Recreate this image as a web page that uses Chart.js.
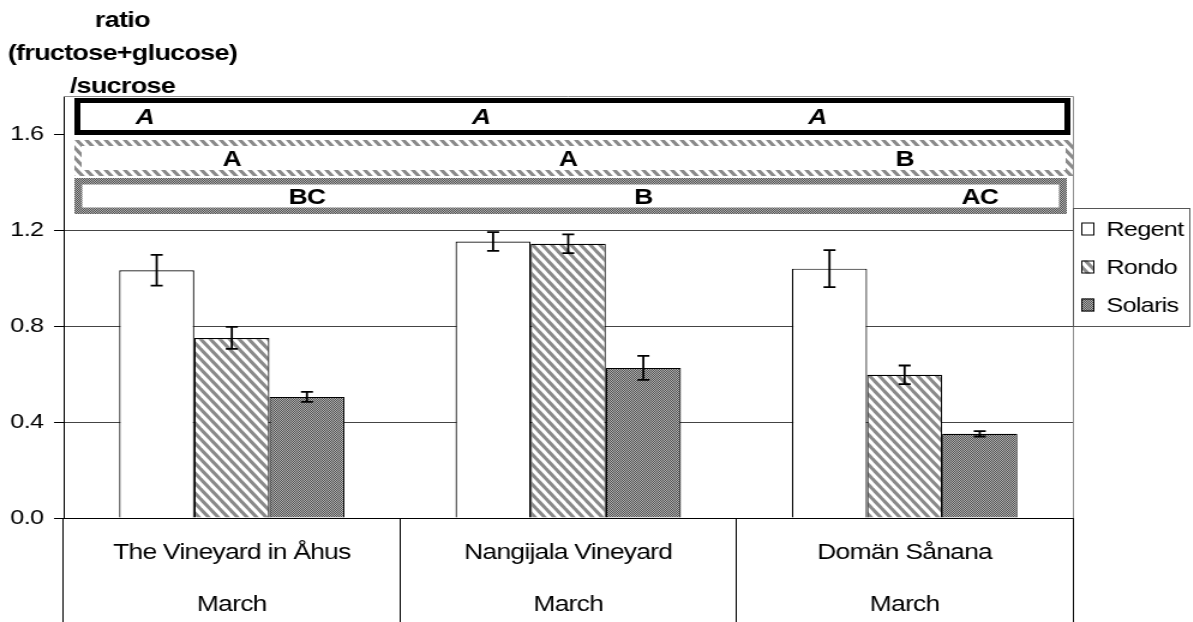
<!DOCTYPE html>
<html>
<head>
<meta charset="utf-8">
<script src="https://cdn.jsdelivr.net/npm/chart.js@4.4.1/dist/chart.umd.min.js"></script>
<style>
  html, body { margin: 0; padding: 0; background: #fff; overflow: hidden; }
  #wrap { width: 1193px; height: 622px; overflow: hidden; }
  /* the chart is laid out narrow and widened on screen */
  #chart { display: block; transform: scaleX(1.2); transform-origin: 0 0; }
</style>
</head>
<body>
<div id="wrap"><canvas id="chart" width="994" height="622"></canvas></div>
<script>
// ---- data ----
const sites = ['The Vineyard in Åhus', 'Nangijala Vineyard', 'Domän Sånana'];
const months = ['March', 'March', 'March'];
const cultivars = ['Regent', 'Rondo', 'Solaris'];

const regent = [1.033, 1.153, 1.040];
const rondo = [0.751, 1.144, 0.597];
const solaris = [0.505, 0.626, 0.351];

const regentErr = [0.064, 0.039, 0.077];
const rondoErr = [0.046, 0.039, 0.039];
const solarisErr = [0.021, 0.050, 0.011];

const regentLetters = ['A', 'A', 'A'];
const rondoLetters = ['A', 'A', 'B'];
const solarisLetters = ['BC', 'B', 'AC'];

const yTicks = [0, 0.4, 0.8, 1.2, 1.6];
const yMax = 1.76;
const axisTitle = ['ratio', '(fructose+glucose)', '/sucrose'];

const FONT = '"Liberation Sans", Arial, Helvetica, sans-serif';

// ---- fill patterns ----
function stripePattern() {
  const w = 8, h = 10;
  const c = document.createElement('canvas');
  c.width = w; c.height = h;
  const g = c.getContext('2d');
  g.fillStyle = '#fff';
  g.fillRect(0, 0, w, h);
  g.strokeStyle = '#8a8a8a';
  g.lineWidth = 3;
  for (const dx of [-w, 0, w]) {
    g.beginPath();
    g.moveTo(dx - w, -h);
    g.lineTo(dx + 2 * w, 2 * h);
    g.stroke();
  }
  return g.createPattern(c, 'repeat');
}
function dotPattern() {
  const c = document.createElement('canvas');
  c.width = 2; c.height = 2;
  const g = c.getContext('2d');
  g.fillStyle = '#b4b4b4';
  g.fillRect(0, 0, 2, 2);
  g.fillStyle = '#4e4e4e';
  g.fillRect(0, 0, 1, 1);
  g.fillRect(1, 1, 1, 1);
  return g.createPattern(c, 'repeat');
}
const stripes = stripePattern();
const dots = dotPattern();

const datasets = [
  { label: cultivars[0], data: regent, errors: regentErr, letters: regentLetters,
    backgroundColor: '#ffffff', borderColor: '#000', borderWidth: 1.2 },
  { label: cultivars[1], data: rondo, errors: rondoErr, letters: rondoLetters,
    backgroundColor: stripes, borderColor: '#000', borderWidth: 1.2 },
  { label: cultivars[2], data: solaris, errors: solarisErr, letters: solarisLetters,
    backgroundColor: dots, borderColor: '#000', borderWidth: 1.2 }
];

// ---- plugins ----
const tightText = {
  id: 'tightText',
  beforeDraw(chart) {
    chart.ctx.letterSpacing = '-0.6px';
  }
};

const plotFrame = {
  id: 'plotFrame',
  beforeDatasetsDraw(chart) {
    const { ctx, chartArea: a } = chart;
    ctx.save();
    ctx.strokeStyle = '#8c8c8c';
    ctx.lineWidth = 1;
    ctx.beginPath();
    ctx.moveTo(a.left, a.top + 0.5);
    ctx.lineTo(a.right + 0.5, a.top + 0.5);
    ctx.lineTo(a.right + 0.5, a.bottom);
    ctx.stroke();
    ctx.restore();
  }
};

const errorBars = {
  id: 'errorBars',
  afterDatasetsDraw(chart) {
    const { ctx, scales: { y } } = chart;
    ctx.save();
    ctx.strokeStyle = '#000';
    ctx.lineWidth = 1.8;
    chart.data.datasets.forEach((ds, i) => {
      chart.getDatasetMeta(i).data.forEach((bar, j) => {
        const v = ds.data[j], e = ds.errors[j];
        const x = bar.x;
        const yt = y.getPixelForValue(v + e);
        const yb = y.getPixelForValue(v - e);
        ctx.beginPath();
        ctx.moveTo(x, yt); ctx.lineTo(x, yb);
        ctx.moveTo(x - 5, yt); ctx.lineTo(x + 5, yt);
        ctx.moveTo(x - 5, yb); ctx.lineTo(x + 5, yb);
        ctx.stroke();
      });
    });
    ctx.restore();
  }
};

// significance letters, one framed band per cultivar
const letterBands = {
  id: 'letterBands',
  afterDraw(chart) {
    const { ctx, chartArea: a } = chart;
    const bands = [
      { ds: 0, top: 2, bottom: 39, left: 9, right: 2, stroke: '#000', width: 5,
        font: 'italic bold 22px ' + FONT, dx: -10 },
      { ds: 1, top: 44, bottom: 80, left: 9, right: 0, stroke: stripes, width: 6,
        font: 'bold 22px ' + FONT, dx: 0 },
      { ds: 2, top: 82, bottom: 118, left: 9, right: 5, stroke: dots, width: 6.5,
        font: 'bold 22px ' + FONT, dx: 0 }
    ];
    ctx.save();
    bands.forEach(b => {
      const L = a.left + b.left, R = a.right - b.right;
      const T = a.top + b.top, B = a.top + b.bottom;
      ctx.fillStyle = '#fff';
      ctx.fillRect(L, T, R - L, B - T);
      ctx.strokeStyle = b.stroke;
      ctx.lineWidth = b.width;
      ctx.strokeRect(L + b.width / 2, T + b.width / 2, R - L - b.width, B - T - b.width);
      const ds = chart.data.datasets[b.ds];
      const meta = chart.getDatasetMeta(b.ds);
      ctx.fillStyle = '#000';
      ctx.font = b.font;
      ctx.textAlign = 'center';
      ctx.textBaseline = 'middle';
      meta.data.forEach((bar, j) => {
        ctx.fillText(ds.letters[j], bar.x + b.dx, (T + B) / 2 + 1.5);
      });
    });
    ctx.restore();
  }
};

const boxedLegend = {
  id: 'boxedLegend',
  afterDraw(chart) {
    const { ctx, chartArea: a } = chart;
    const L = a.right, T = a.top + 112, W = 97, H = 118;
    ctx.save();
    ctx.fillStyle = '#fff';
    ctx.fillRect(L, T, W, H);
    ctx.strokeStyle = '#555';
    ctx.lineWidth = 1;
    ctx.strokeRect(L + 0.5, T + 0.5, W, H);
    ctx.font = '21px ' + FONT;
    ctx.textAlign = 'left';
    ctx.textBaseline = 'middle';
    chart.data.datasets.forEach((ds, i) => {
      const cy = T + 21 + i * 38;
      ctx.fillStyle = ds.backgroundColor;
      ctx.fillRect(L + 7, cy - 6.5, 11, 13);
      ctx.strokeStyle = '#000';
      ctx.lineWidth = 1;
      ctx.strokeRect(L + 7.5, cy - 6, 10, 12);
      ctx.fillStyle = '#000';
      ctx.fillText(ds.label, L + 28, cy + 1);
    });
    ctx.restore();
  }
};

const axisHeading = {
  id: 'axisHeading',
  afterDraw(chart) {
    const { ctx, chartArea: a } = chart;
    ctx.save();
    ctx.fillStyle = '#000';
    ctx.font = 'bold 22.5px ' + FONT;
    ctx.textAlign = 'center';
    ctx.textBaseline = 'alphabetic';
    axisTitle.forEach((line, i) => {
      ctx.fillText(line, a.left + 49, a.top - 69 + i * 33);
    });
    ctx.restore();
  }
};

new Chart(document.getElementById('chart'), {
  type: 'bar',
  data: {
    labels: sites.map((s, i) => [s, months[i]]),
    datasets
  },
  options: {
    responsive: false,
    animation: false,
    events: [],
    layout: { padding: { top: 96, right: 100, left: 0, bottom: 0 } },
    datasets: { bar: { barPercentage: 1, categoryPercentage: 0.67 } },
    plugins: {
      legend: { display: false },
      tooltip: { enabled: false },
      title: { display: false }
    },
    scales: {
      x: {
        grid: {
          display: true, drawOnChartArea: false, drawTicks: true,
          tickLength: 104, offset: true, color: '#000', lineWidth: 1
        },
        border: { display: true, color: '#000', width: 1 },
        ticks: {
          padding: -95, color: '#000', maxRotation: 0, autoSkip: false,
          font: { family: FONT, size: 22, lineHeight: '52px' }
        },
        afterFit(s) { s.height = 104; }
      },
      y: {
        min: 0,
        max: yMax,
        afterBuildTicks(s) { s.ticks = yTicks.map(v => ({ value: v })); },
        ticks: {
          padding: 9, color: '#000',
          font: { family: FONT, size: 21 },
          callback: v => Number(v).toFixed(1)
        },
        grid: {
          color: c => (c.tick && c.tick.value === 1.6) ? 'rgba(0,0,0,0)' : '#444',
          tickColor: '#000', tickLength: 8, lineWidth: 1
        },
        border: { display: true, color: '#000', width: 1 },
        afterFit(s) { s.width = 53; }
      }
    }
  },
  plugins: [tightText, plotFrame, errorBars, letterBands, boxedLegend, axisHeading]
});
</script>
</body>
</html>
